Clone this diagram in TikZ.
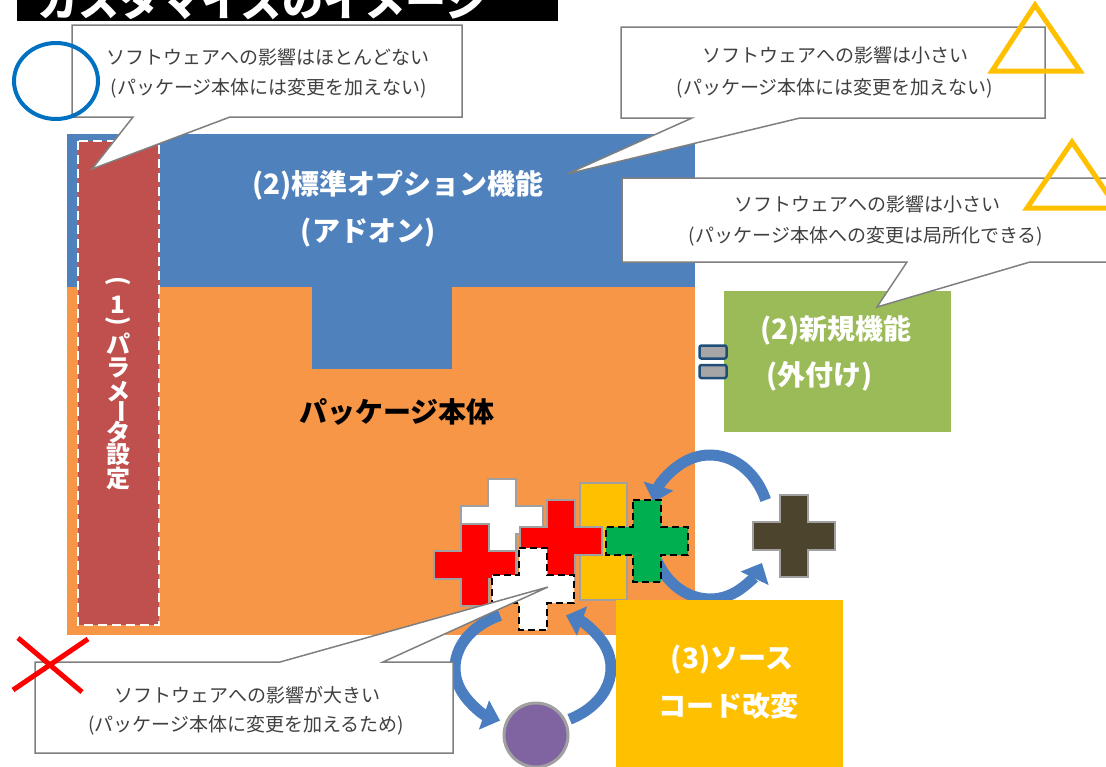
\documentclass[tikz,border=0pt]{standalone}
\usepackage{fontspec}
\setmainfont{Noto Sans CJK JP}
\usepackage{graphicx}
\usetikzlibrary{arrows.meta,positioning,calc}
\definecolor{addonblue}{RGB}{79,129,189}
\definecolor{pkgorange}{RGB}{247,150,70}
\definecolor{paramred}{RGB}{192,80,77}
\definecolor{newgreen}{RGB}{155,187,89}
\definecolor{srcyellow}{RGB}{255,192,0}
\definecolor{loopblue}{RGB}{74,126,193}
\definecolor{notegray}{RGB}{127,127,127}
\definecolor{notetext}{RGB}{64,64,64}
\definecolor{crossgray}{RGB}{160,160,160}
\definecolor{plusgreen}{RGB}{0,176,80}
\definecolor{plusdark}{RGB}{77,68,46}
\definecolor{purplenode}{RGB}{128,100,162}
\definecolor{markblue}{RGB}{0,112,192}
\definecolor{plugedge}{RGB}{31,78,121}
\definecolor{pluggray}{RGB}{166,166,166}

\tikzset{
  crossmark/.pic={
    \path[pic actions] (-14,-41) -- (14,-41) -- (14,-14) -- (41,-14) -- (41,14) -- (14,14)
      -- (14,41) -- (-14,41) -- (-14,14) -- (-41,14) -- (-41,-14) -- (-14,-14) -- cycle;
  },
  note/.style={font=\fontsize{19}{23}\selectfont, text=notetext, inner sep=0pt},
  boxtext/.style={font=\bfseries\fontsize{28}{32}\selectfont, text=white, inner sep=0pt},
  callout/.style={fill=white, draw=notegray, line width=1.5pt, line join=miter},
  cyclearrow/.style={draw=loopblue, line width=11pt, -{Triangle[width=30pt,length=17pt]}},
  plug/.style={draw=plugedge, fill=pluggray, line width=2.5pt, rounded corners=2pt,
    minimum width=27pt, minimum height=13pt, inner sep=0pt},
  markline/.style={line width=5pt, line cap=round}
}

\begin{document}
\begin{tikzpicture}[x=1pt, y=-1pt]
  \useasboundingbox (0,0) rectangle (1106,766);

  % title bar, cut at the top
  \fill[black] (17,0) rectangle (558,21);
  \node[anchor=base, text=white, font=\bfseries\fontsize{41}{45}\selectfont, inner sep=0pt] (title) at (262,16) {カスタマイズのイメージ};

  % package body and add-on
  \fill[pkgorange] (67,287) rectangle (695,635);
  \fill[addonblue] (67,134) rectangle (695,287);
  \fill[addonblue] (312,286) rectangle (452,369);

  % parameter bar
  \draw[fill=paramred, draw=white, line width=2.5pt, dash pattern=on 9pt off 5pt] (78,141) rectangle (159,625);
  \foreach \ch/\yy [count=\i] in {{\rotatebox[origin=c]{-90}{(}}/283, 1/305, {\rotatebox[origin=c]{-90}{)}}/323,
      パ/344, ラ/368, メ/392, {\rotatebox[origin=c]{-90}{ー}}/411, タ/432, 設/455, 定/478}
    \node[boxtext, font=\bfseries\fontsize{24}{24}\selectfont] (p\i) at (118,\yy) {\ch};

  \node[boxtext] (addon1) at (398,185) {(2)標準オプション機能};
  \node[boxtext] (addon2) at (368,233) {(アドオン)};
  \node[boxtext, text=black] (pkg) at (397,412) {パッケージ本体};

  % new function, plugged on the side
  \fill[newgreen] (724,291) rectangle (951,432);
  \node[boxtext, anchor=west] (new1) at (760,330) {(2)新規機能};
  \node[boxtext, anchor=west] (new2) at (766,376) {(外付け)};
  \node[plug] (plugA) at (713,352) {};
  \node[plug, below=4pt of plugA] (plugB) {};

  % source changes
  \draw[fill=srcyellow, draw=crossgray, line width=2pt] (580,483) rectangle (627,600);
  \pic[fill=white, draw=crossgray, line width=2.5pt] at (502,520) {crossmark};
  \pic[fill=red, draw=crossgray, line width=2.5pt] at (475,565) {crossmark};
  \pic[fill=red, draw=crossgray, line width=2.5pt] at (561,541) {crossmark};
  \pic[fill=white, draw=black, line width=2pt, dash pattern=on 7pt off 4pt] at (533,589) {crossmark};

  \coordinate (rcyc) at (710,527);
  \coordinate (lcyc) at (533,668);
  \draw[cyclearrow] ($(rcyc)+(-22:60 and 72)$) arc[start angle=-22, end angle=-160, x radius=60, y radius=72];
  \draw[cyclearrow] ($(rcyc)+(152:60 and 72)$) arc[start angle=152, end angle=30, x radius=60, y radius=72];
  \draw[cyclearrow] ($(lcyc)+(-115:78 and 58)$) arc[start angle=-115, end angle=-245, x radius=78, y radius=58];
  \draw[cyclearrow] ($(lcyc)+(62:78 and 58)$) arc[start angle=62, end angle=-65, x radius=78, y radius=58];

  \pic[fill=plusgreen, draw=black, line width=2pt, dash pattern=on 7pt off 4pt] at (647,541) {crossmark};
  \pic[fill=plusdark, draw=crossgray, line width=2.5pt] at (794,536) {crossmark};

  \fill[srcyellow] (616,600) rectangle (843,770);
  \node[boxtext] (src1) at (732,660) {(3)ソース};
  \node[boxtext] (src2) at (728,706) {コード改変};

  \node[circle, fill=purplenode, draw=crossgray, line width=3pt, minimum size=64pt, inner sep=0pt] (other) at (536,735) {};

  % callouts
  \draw[callout] (72,25) -- (462,25) -- (462,117) -- (230,117) -- (92,169) -- (133,117) -- (72,117) -- cycle;
  \node[note] (c1a) at (268,57) {ソフトウェアへの影響はほとんどない};
  \node[note] (c1b) at (269,88) {(パッケージ本体には変更を加えない)};

  \draw[callout] (621,27) -- (1045,27) -- (1045,118) -- (800,118) -- (567,174) -- (692,118) -- (621,118) -- cycle;
  \node[note] (c2a) at (835,55) {ソフトウェアへの影響は小さい};
  \node[note] (c2b) at (835,88) {(パッケージ本体には変更を加えない)};

  \draw[callout] (622,178) -- (1115,178) -- (1115,262) -- (1030,262) -- (877,307) -- (907,262) -- (622,262) -- cycle;
  \node[note] (c3a) at (867,204) {ソフトウェアへの影響は小さい};
  \node[note] (c3b) at (866,236) {(パッケージ本体への変更は局所化できる)};

  \draw[callout] (35,662) -- (280,662) -- (548,587) -- (383,662) -- (453,662) -- (453,753) -- (35,753) -- cycle;
  \node[note] (c4a) at (247,695) {ソフトウェアへの影響が大きい};
  \node[note] (c4b) at (246,725) {(パッケージ本体に変更を加えるため)};

  % marks
  \draw[markblue, line width=4pt] (56,81) ellipse[x radius=42, y radius=38];
  \draw[srcyellow, markline, line join=miter, line cap=butt] (992,71) -- (1035,5) -- (1080,71) -- cycle;
  \draw[srcyellow, markline, line join=miter, line cap=butt] (1027,208) -- (1072,142) -- (1117,208) -- cycle;
  \draw[red, markline, line cap=butt] (18,638) -- (82,692);
  \draw[red, markline, line cap=butt] (88,639) -- (13,690);
\end{tikzpicture}
\end{document}
